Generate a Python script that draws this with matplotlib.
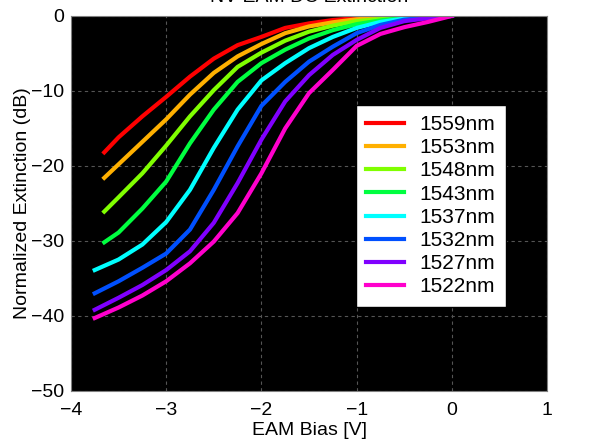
import matplotlib
matplotlib.use("Agg")
import matplotlib.pyplot as plt

# bias points (V); the upper curves start a little later than the lower ones
bias_short = [-3.65, -3.5, -3.25, -3.0, -2.75, -2.5, -2.25, -2.0,
              -1.75, -1.5, -1.25, -1.0, -0.75, -0.5, -0.25, 0.0]
bias_long = [-3.75, -3.5, -3.25, -3.0, -2.75, -2.5, -2.25, -2.0,
             -1.75, -1.5, -1.25, -1.0, -0.75, -0.5, -0.25, 0.0]

wavelengths = ["1559nm", "1553nm", "1548nm", "1543nm",
               "1537nm", "1532nm", "1527nm", "1522nm"]
colors = ["#ff0000", "#ffb000", "#80ff00", "#00ff40",
          "#00ffff", "#0050ff", "#8000ff", "#ff00cc"]

ext_1559 = [-18.2, -16.2, -13.4, -10.8, -8.1, -5.7, -3.9, -2.8,
            -1.6, -1.0, -0.55, -0.3, -0.1, 0.0, 0.0, 0.0]
ext_1553 = [-21.6, -19.8, -16.8, -13.8, -10.5, -7.6, -5.4, -3.75,
            -2.3, -1.4, -0.85, -0.45, -0.25, -0.1, 0.0, 0.0]
ext_1548 = [-26.1, -24.2, -21.0, -17.3, -13.4, -9.9, -6.8, -4.9,
            -3.3, -2.1, -1.3, -0.7, -0.4, -0.15, 0.0, 0.0]
ext_1543 = [-30.2, -28.9, -25.7, -22.1, -17.0, -12.5, -8.8, -6.3,
            -4.5, -3.0, -1.9, -1.1, -0.6, -0.25, -0.05, 0.0]
ext_1537 = [-33.9, -32.5, -30.5, -27.5, -23.2, -17.6, -12.5, -8.6,
            -6.3, -4.3, -2.8, -1.6, -0.8, -0.35, -0.1, 0.0]
ext_1532 = [-37.0, -35.4, -33.6, -31.7, -28.5, -23.2, -17.4, -12.0,
            -8.8, -6.1, -4.1, -2.3, -1.2, -0.5, -0.2, 0.0]
ext_1527 = [-39.2, -37.6, -35.9, -33.9, -31.4, -27.6, -22.3, -16.5,
            -11.4, -7.9, -5.2, -3.2, -1.6, -0.7, -0.3, 0.0]
ext_1522 = [-40.3, -38.9, -37.3, -35.4, -33.0, -30.1, -26.3, -21.0,
            -15.0, -10.3, -7.2, -4.0, -2.4, -1.5, -0.8, 0.0]

curves = [(bias_short, ext_1559), (bias_short, ext_1553),
          (bias_short, ext_1548), (bias_short, ext_1543),
          (bias_long, ext_1537), (bias_long, ext_1532),
          (bias_long, ext_1527), (bias_long, ext_1522)]

plt.rcParams["font.family"] = ["Liberation Sans", "DejaVu Sans"]

fig = plt.figure(figsize=(5.96, 4.42), dpi=100)
ax = fig.add_axes([0.119, 0.116, 0.799, 0.848])
ax.set_facecolor("black")

for (x, y), lab, c in zip(curves, wavelengths, colors):
    ax.plot(x, y, color=c, lw=3, label=lab)

ax.set_xlim(-4, 1)
ax.set_ylim(-50, 0)
ax.set_xticks([-4, -3, -2, -1, 0, 1])
ax.set_yticks([-50, -40, -30, -20, -10, 0])
ax.tick_params(labelsize=14, length=0)
ax.tick_params(axis="x", pad=8)
ax.tick_params(axis="y", pad=5)
ax.grid(True, color="#555555", ls=(0, (3, 3)), lw=0.8)
for s in ax.spines.values():
    s.set_color("#808080")

ax.set_xlabel("EAM Bias [V]", fontsize=14, labelpad=2)
ax.set_ylabel("Normalized Extinction (dB)", fontsize=14, labelpad=0)
# the title sits mostly above the figure edge, as in the original
ax.set_title("NV EAM DC Extinction", fontsize=14, pad=10)

leg = ax.legend(loc="upper right", bbox_to_anchor=(0.913, 0.763),
                fontsize=15, frameon=True, fancybox=False, framealpha=1,
                edgecolor="black", handlelength=1.8, handletextpad=0.75,
                labelspacing=0.2, borderpad=0.5, borderaxespad=0)
leg.get_frame().set_linewidth(1)

fig.savefig("out.png", dpi=100)
